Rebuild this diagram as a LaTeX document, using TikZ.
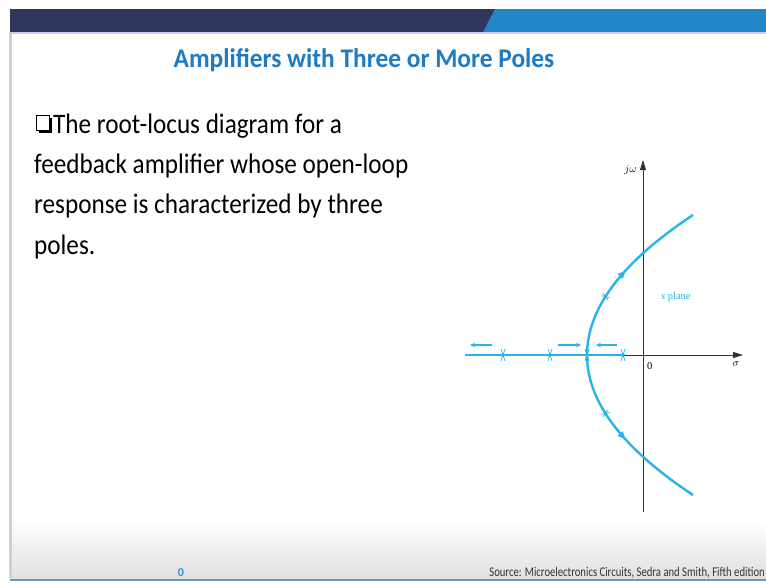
\documentclass[tikz,border=0pt]{standalone}
\usepackage{fontspec}
\setmainfont{Carlito}
\newfontfamily\plotserif{Liberation Serif}
\usetikzlibrary{arrows.meta,decorations.markings}
\definecolor{navy}{RGB}{46,55,96}
\definecolor{barblue}{RGB}{35,134,200}
\definecolor{titleblue}{RGB}{30,123,196}
\definecolor{locus}{RGB}{40,180,230}
\definecolor{axisgray}{RGB}{50,50,50}
\definecolor{edgegray}{RGB}{208,208,208}
\definecolor{footline}{RGB}{105,150,190}
\definecolor{pagenum}{RGB}{58,143,200}
\newcommand{\tallbody}[1]{\scalebox{1}[1.12]{#1}}
\tikzset{
  bodytext/.style={anchor=base west,inner sep=0pt,font=\fontsize{25.2}{30}\selectfont,text=black},
  locusline/.style={draw=locus,line width=2.4pt},
  axisline/.style={draw=axisgray,line width=0.8pt,-{Triangle[length=10pt,width=6pt]}},
  polemark/.style={draw=locus,line width=0.7pt},
  movearrow/.style={draw=locus,line width=1.1pt,-{Stealth[length=5pt,width=4.5pt]}},
  curvemarks/.style={postaction={decorate,decoration={markings,
     mark=at position 0.34 with {\draw[locus,line width=0.7pt] (-1.5,-4)--(1.5,4) (-1.5,4)--(1.5,-4);},
     mark=at position 0.52 with {\arrow[locus]{Triangle[length=8pt,width=6.5pt]}}}}},
  plotlabel/.style={inner sep=0pt,font=\plotserif\fontsize{10.5}{12}\selectfont}
}
\begin{document}
\begin{tikzpicture}[x=1pt,y=-1pt]
\useasboundingbox (0,0) rectangle (766,582);
\fill[white] (0,0) rectangle (766,582);
% footer gradient
\shade[top color=white,bottom color=black!12] (10,520) rectangle (766,578);
\fill[footline] (10,578.5) rectangle (766,581);
% left edge
\fill[edgegray] (9,32) rectangle (12,578);
% top bar
\fill[navy] (10,9) rectangle (495,32);
\fill[barblue] (495,9) -- (766,9) -- (766,32) -- (483,32) -- cycle;
\fill[black!10!blue!20] (12,32) rectangle (766,33.5);
% title
\node[anchor=base,inner sep=0pt,font=\fontsize{25.4}{30}\selectfont\bfseries,text=titleblue] (title) at (364,67) {\scalebox{1}[1.06]{Amplifiers with Three or More Poles}};
% bullet box
\fill[black] (38.5,117.5) rectangle (52,133);
\filldraw[fill=white,draw=black,line width=0.9pt] (36,115) rectangle (49,130);
\node[bodytext] (l1) at (53,133) {\tallbody{The root-locus diagram for a}};
\node[bodytext] (l2) at (34,173) {\tallbody{feedback amplifier whose open-loop}};
\node[bodytext] (l3) at (34,213) {\tallbody{response is characterized by three}};
\node[bodytext] (l4) at (34,254) {\tallbody{poles.}};
% axes
\coordinate (o) at (643,355);
\coordinate (ytip) at (643,160);
\coordinate (ybot) at (643,512);
\coordinate (xleft) at (465,355);
\coordinate (xtip) at (743,355);
\draw[axisline] (xleft) -- (xtip);
\draw[axisline] (ybot) -- (ytip);
\node[plotlabel,anchor=east] (jw) at (637,170) {$j\omega$};
\node[plotlabel,anchor=north west] (zero) at (647,362) {0};
\node[plotlabel,anchor=north] (sigma) at (736,362) {$\sigma$};
\node[plotlabel,anchor=west,text=locus] (splane) at (661,297) {\itshape s\upshape\ plane};
% real-axis locus
\coordinate (bp) at (587,355);
\draw[locusline] (xleft) -- (625,355);
\foreach \px in {503,550,587,623}{
  \draw[polemark] (\px-2,349) -- (\px+2,361) (\px-2,361) -- (\px+2,349);
}
% movement arrows
\draw[movearrow] (492,345) -- (470,345);
\draw[movearrow] (558,345) -- (581,345);
\draw[movearrow] (617,345) -- (596,345);
% complex branches
\coordinate (upend) at (693,215);
\coordinate (lowend) at (693,495);
\draw[locusline,curvemarks] (bp) .. controls (587,308.3) and (622.3,261.7) .. (upend);
\draw[locusline,curvemarks] (bp) .. controls (587,401.7) and (622.3,448.3) .. (lowend);
% footer
\node[anchor=base,inner sep=0pt,font=\fontsize{12}{14}\selectfont\bfseries,text=pagenum] (pnum) at (181,576) {0};
\node[anchor=base east,inner sep=0pt,font=\fontsize{12.4}{14}\selectfont,text=black!80] (src) at (765,576) {\scalebox{0.86}[1.08]{Source: Microelectronics Circuits, Sedra and Smith, Fifth edition}};
\end{tikzpicture}
\end{document}
